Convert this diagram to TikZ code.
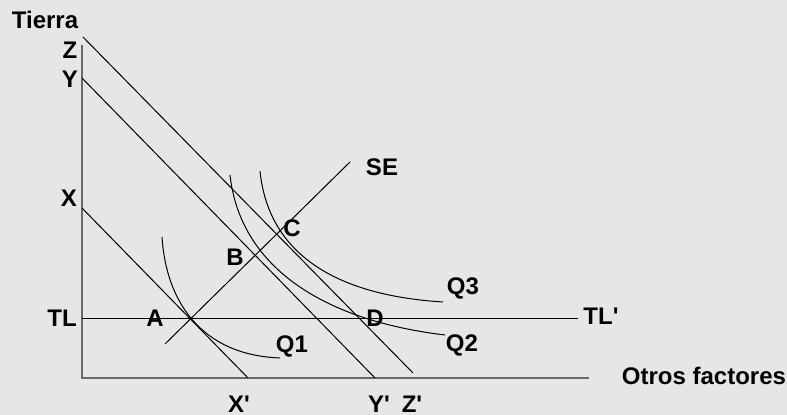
\documentclass[tikz,border=0pt]{standalone}
\usepackage{fontspec}
\setmainfont{Liberation Sans}
\usepackage{xcolor}
\usepackage{tikz}
\usetikzlibrary{positioning}

\definecolor{paper}{RGB}{230,230,230}
\definecolor{axisgray}{RGB}{105,105,105}

\begin{document}
\begin{tikzpicture}[x=0.5pt, y=-0.5pt, line width=0.5pt,
        lbl/.style={font=\fontsize{12}{14}\selectfont\bfseries, inner sep=0pt},
        axis/.style={draw=axisgray, line width=1pt}]
        \fill[paper] (0,0) rectangle (787,415);

        % axes
        \coordinate (ytop) at (82,45);
        \coordinate (O) at (82,378);
        \coordinate (xend) at (589,378);
        \draw[axis] (ytop) -- (O) -- (xend);

        % end points of the lines
        \coordinate (xa) at (82,208);  \coordinate (xb) at (248,378);
        \coordinate (ya) at (82,78);   \coordinate (yb) at (375,378);
        \coordinate (za) at (83,37);   \coordinate (zb) at (413,373);
        \coordinate (tla) at (82,319); \coordinate (tlb) at (578,319);
        \coordinate (sea) at (165,344); \coordinate (seb) at (350,162);

        \path
        (xa) edge (xb)
        (ya) edge (yb)
        (za) edge (zb)
        (tla) edge (tlb)
        (sea) edge (seb);

        % isoquants
        \draw (162,237) .. controls (166,300) and (200,355) .. (280,358);
        \draw (230,175) .. controls (240,265) and (320,320) .. (445,335);
        \draw (260,171) .. controls (268,250) and (330,295) .. (443,302);

        % labels
        \node[lbl] (tierra) at (45,20) {Tierra};
        \node[lbl] (otros)  at (704,376) {Otros factores};
        \node[lbl] (Z)  at (70,50)  {Z};
        \node[lbl] (Y)  at (70,79)  {Y};
        \node[lbl] (X)  at (69,198) {X};
        \node[lbl] (TL) at (62,318) {TL};
        \node[lbl] (TLp) at (601,316) {TL\textquotesingle};
        \node[lbl] (Xp) at (239,404) {X\textquotesingle};
        \node[lbl] (Yp) at (379,404) {Y\textquotesingle};
        \node[lbl] (Zp) at (412,404) {Z\textquotesingle};
        \node[lbl] (A)  at (155,318) {A};
        \node[lbl] (B)  at (235,257) {B};
        \node[lbl] (C)  at (292,228) {C};
        \node[lbl] (D)  at (375,318) {D};
        \node[lbl] (SE) at (382,167) {SE};
        \node[lbl] (Q1) at (292,346) {Q1};
        \node[lbl] (Q2) at (462,345) {Q2};
        \node[lbl] (Q3) at (463,288) {Q3};
\end{tikzpicture}
\end{document}
